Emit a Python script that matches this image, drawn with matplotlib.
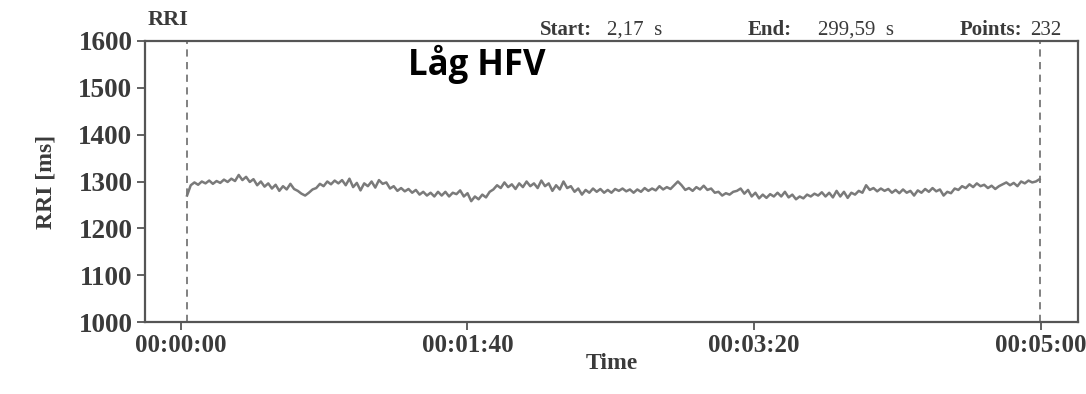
import matplotlib
matplotlib.use('Agg')
import numpy as np
from matplotlib import pyplot as plt

# header info
start_s = 2.17
end_s = 299.59
n_points = 232

# RR intervals [ms] left to right
rri = [
    1270, 1292, 1298, 1293, 1300, 1296, 1302, 1295, 1301, 1297,
    1304, 1299, 1306, 1301, 1314, 1303, 1310, 1299, 1305, 1292,
    1300, 1289, 1296, 1285, 1293, 1280, 1290, 1283, 1295, 1284,
    1280, 1274, 1270, 1276, 1283, 1286, 1295, 1290, 1300, 1294,
    1302, 1296, 1303, 1292, 1306, 1288, 1297, 1281, 1296, 1290,
    1300, 1287, 1303, 1295, 1298, 1285, 1290, 1280, 1286, 1279,
    1284, 1276, 1282, 1272, 1278, 1270, 1276, 1268, 1278, 1270,
    1278, 1268, 1276, 1273, 1281, 1268, 1275, 1258, 1268, 1262,
    1272, 1266, 1278, 1283, 1292, 1286, 1298, 1288, 1294, 1284,
    1296, 1288, 1300, 1290, 1296, 1286, 1302, 1290, 1296, 1280,
    1292, 1283, 1300, 1286, 1290, 1278, 1285, 1272, 1282, 1276,
    1285, 1278, 1284, 1276, 1282, 1276, 1284, 1280, 1285, 1279,
    1283, 1276, 1283, 1278, 1286, 1280, 1285, 1281, 1290, 1283,
    1288, 1284, 1292, 1300, 1292, 1282, 1286, 1280, 1288, 1283,
    1291, 1282, 1285, 1276, 1278, 1270, 1275, 1272, 1278, 1280,
    1285, 1274, 1282, 1268, 1276, 1264, 1272, 1265, 1273, 1268,
    1276, 1268, 1278, 1266, 1272, 1262, 1268, 1264, 1272, 1268,
    1274, 1270, 1277, 1268, 1276, 1266, 1280, 1268, 1278, 1265,
    1276, 1272, 1280, 1276, 1292, 1282, 1286, 1279, 1285, 1280,
    1284, 1276, 1282, 1275, 1283, 1276, 1280, 1270, 1281, 1276,
    1284, 1278, 1286, 1279, 1283, 1270, 1278, 1275, 1285, 1282,
    1290, 1286, 1294, 1288, 1296, 1290, 1293, 1286, 1291, 1284,
    1290, 1294, 1298, 1292, 1297, 1290, 1300, 1296, 1302, 1298,
    1300, 1305,
]

xticks = [0, 100, 200, 300]
xtick_labels = ['00:00:00', '00:01:40', '00:03:20', '00:05:00']
yticks = [1000, 1100, 1200, 1300, 1400, 1500, 1600]

t = np.linspace(start_s, end_s, n_points)

serif = ['Liberation Serif', 'DejaVu Serif']
dark = '#3a3a3a'

fig = plt.figure(figsize=(10.86, 3.94), dpi=100)
ax = fig.add_axes([145 / 1086, 1 - 322 / 394, (1078 - 145) / 1086, (322 - 41) / 394])

ax.plot(t, rri, color='#7a7a7a', lw=1.8)
ax.axvline(start_s, color='#777777', lw=1.3, ls=(0, (4, 3)))
ax.axvline(end_s, color='#777777', lw=1.3, ls=(0, (4, 3)))

ax.set_xlim(-12.5, 313)
ax.set_ylim(1000, 1600)
ax.set_xticks(xticks)
ax.set_xticklabels(xtick_labels)
ax.set_yticks(yticks)

for s in ax.spines.values():
    s.set_color('#555555')
    s.set_linewidth(1.6)
ax.tick_params(direction='out', length=6, width=1.3, color='#555555',
               labelcolor=dark, pad=3)
for lab in ax.get_xticklabels():
    lab.set_fontfamily(serif)
    lab.set_fontweight('bold')
    lab.set_fontsize(18)
for lab in ax.get_yticklabels():
    lab.set_fontfamily(serif)
    lab.set_fontweight('bold')
    lab.set_fontsize(19.5)

ax.set_xlabel('Time', family=serif, fontweight='bold', fontsize=17, color=dark, labelpad=-3)
ax.set_ylabel('RRI [ms]', family=serif, fontweight='bold', fontsize=17, color=dark, labelpad=16)

# header line above the plot
hdr = dict(family=serif, fontsize=15, color=dark, va='bottom')
fig.text(148 / 1086, 1 - 30 / 394, 'RRI', fontweight='bold', **dict(hdr, fontsize=16))
fig.text(540 / 1086, 1 - 40 / 394, 'Start:', fontweight='bold', **hdr)
fig.text(607 / 1086, 1 - 40 / 394, '2,17  s', **hdr)
fig.text(748 / 1086, 1 - 40 / 394, 'End:', fontweight='bold', **hdr)
fig.text(818 / 1086, 1 - 40 / 394, '299,59  s', **hdr)
fig.text(960 / 1086, 1 - 40 / 394, 'Points:', fontweight='bold', **hdr)
fig.text(1030 / 1086, 1 - 40 / 394, '232', **hdr)

ax.text(0.282, 0.879, 'Låg HFV', transform=ax.transAxes, family=['Open Sans', 'DejaVu Sans'],
        fontweight='bold', fontsize=25, color='black', ha='left', va='baseline')

fig.savefig('out.png', dpi=100, facecolor='white')
